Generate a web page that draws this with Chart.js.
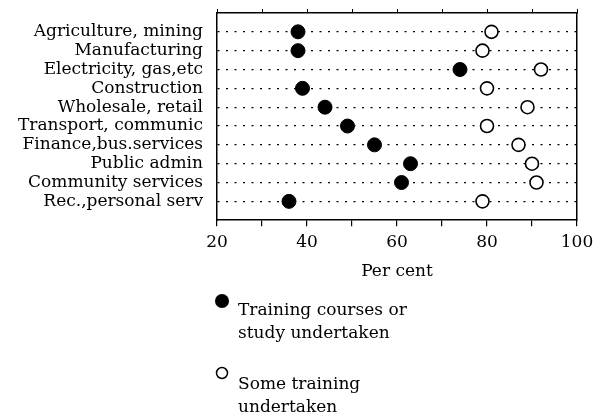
<!DOCTYPE html>
<html>
<head>
<meta charset="utf-8">
<script src="https://cdn.jsdelivr.net/npm/chart.js@4.4.0/dist/chart.umd.min.js"></script>
<style>
html,body{margin:0;padding:0;background:#fff;}
#wrap{width:605px;height:417px;position:relative;}
</style>
</head>
<body>
<div id="wrap"><canvas id="c" width="605" height="417"></canvas></div>
<script>
const categories = ["Agriculture, mining","Manufacturing","Electricity, gas,etc","Construction","Wholesale, retail","Transport, communic","Finance,bus.services","Public admin","Community services","Rec.,personal serv"];
const trainingCourses = [38, 38, 74, 39, 44, 49, 55, 63, 61, 36];
const someTraining = [81, 79, 92, 80, 89, 80, 87, 90, 91, 79];
const xTicks = [20, 40, 60, 80, 100];
const legendLabels = [["Training courses or","study undertaken"],["Some training","undertaken"]];

const FONT = "'DejaVu Serif', 'Liberation Serif', serif";

const legendPlugin = {
  id: 'customLegend',
  afterDraw(chart) {
    const ctx = chart.ctx;
    ctx.save();
    ctx.font = "17px " + FONT;
    ctx.fillStyle = '#000';
    ctx.textBaseline = 'alphabetic';
    ctx.beginPath(); ctx.arc(222, 301, 7, 0, Math.PI*2); ctx.fill();
    ctx.fillText(legendLabels[0][0], 238, 315);
    ctx.fillText(legendLabels[0][1], 238, 338);
    ctx.beginPath(); ctx.arc(222, 373, 5.5, 0, Math.PI*2);
    ctx.lineWidth = 1.5; ctx.strokeStyle = '#000'; ctx.stroke();
    ctx.fillText(legendLabels[1][0], 238, 389);
    ctx.fillText(legendLabels[1][1], 238, 412);
    ctx.restore();
  }
};

const chart = new Chart(document.getElementById('c'), {
  type: 'scatter',
  data: {
    datasets: [
      {
        label: 'Training courses or study undertaken',
        data: trainingCourses.map((v, i) => ({x: v, y: i})),
        pointRadius: 7, pointHoverRadius: 7,
        pointBackgroundColor: '#000', pointBorderColor: '#000', pointBorderWidth: 1
      },
      {
        label: 'Some training undertaken',
        data: someTraining.map((v, i) => ({x: v, y: i})),
        pointRadius: 6.5, pointHoverRadius: 6.5,
        pointBackgroundColor: '#fff', pointBorderColor: '#000', pointBorderWidth: 1.6
      }
    ]
  },
  options: {
    responsive: false,
    animation: false,
    layout: {padding: {top: 9, right: 28, bottom: 126, left: 0}},
    plugins: {legend: {display: false}, tooltip: {enabled: false}},
    scales: {
      x: {
        type: 'linear', position: 'bottom', min: 20, max: 100,
        ticks: {
          stepSize: 10, color: '#000', padding: 6,
          font: {family: FONT, size: 17},
          callback: v => xTicks.includes(v) ? String(v) : ''
        },
        grid: {drawOnChartArea: false, tickLength: 6, color: '#000', lineWidth: 1.2},
        border: {display: true, color: '#000', width: 1.5},
        title: {display: true, text: 'Per cent', color: '#000', font: {family: FONT, size: 17}, padding: {top: 3, bottom: 9}}
      },
      xTop: {
        type: 'linear', position: 'top', min: 20, max: 100,
        ticks: {stepSize: 10, display: false},
        grid: {drawOnChartArea: false, tickLength: 4, color: '#000', lineWidth: 1},
        border: {display: true, color: '#000', width: 1.5}
      },
      y: {
        type: 'linear', position: 'left', min: -1, max: 10, reverse: true,
        afterFit: s => { s.width = 217; s.paddingTop = 0; s.paddingBottom = 0; },
        ticks: {
          stepSize: 1, color: '#000', padding: 14, autoSkip: false,
          font: {family: FONT, size: 17},
          callback: v => (Number.isInteger(v) && v >= 0 && v < categories.length) ? categories[v] : ''
        },
        grid: {
          drawOnChartArea: true, drawTicks: false, tickLength: 0, lineWidth: 1.2,
          color: ctx => (ctx.tick && ctx.tick.value >= 0 && ctx.tick.value < categories.length) ? '#000' : 'rgba(0,0,0,0)'
        },
        border: {display: true, color: '#000', width: 1.5, dash: [2, 6.5]}
      },
      yRight: {
        type: 'linear', position: 'right', min: -1, max: 10,
        afterFit: s => { s.paddingTop = 0; s.paddingBottom = 0; },
        ticks: {display: false},
        grid: {drawOnChartArea: false, drawTicks: false, tickLength: 0},
        border: {display: true, color: '#000', width: 1.5}
      }
    }
  },
  plugins: [legendPlugin]
});
</script>
</body>
</html>
